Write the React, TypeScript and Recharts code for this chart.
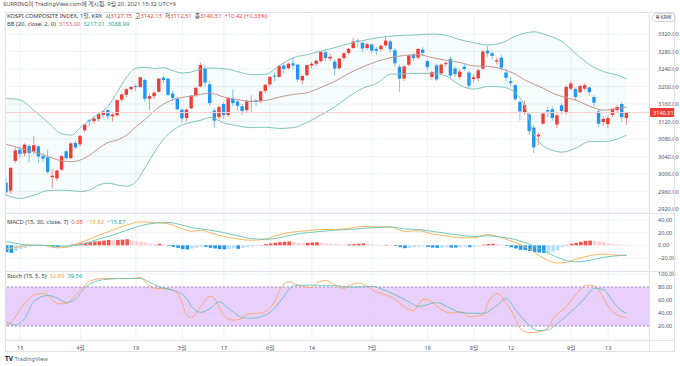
import React from "react";
import {
  ComposedChart,
  Bar,
  Line,
  Area,
  XAxis,
  YAxis,
  CartesianGrid,
  ReferenceLine,
  ReferenceArea,
  Cell,
} from "recharts";

// KOSPI daily, 2021-03-10 .. 2021-09-17
const dates = [
  "03-10", "03-11", "03-12", "03-15", "03-16", "03-17", "03-18", "03-19", "03-22", "03-23", "03-24", "03-25", "03-26", "03-29", "03-30", "03-31",
  "04-01", "04-02", "04-05", "04-06", "04-07", "04-08", "04-09", "04-12", "04-13", "04-14", "04-15", "04-16", "04-19", "04-20", "04-21", "04-22", "04-23", "04-26", "04-27", "04-28", "04-29", "04-30",
  "05-03", "05-04", "05-06", "05-07", "05-10", "05-11", "05-12", "05-13", "05-14", "05-17", "05-18", "05-20", "05-21", "05-24", "05-25", "05-26", "05-27", "05-28", "05-31",
  "06-01", "06-02", "06-03", "06-04", "06-07", "06-08", "06-09", "06-10", "06-11", "06-14", "06-15", "06-16", "06-17", "06-18", "06-21", "06-22", "06-23", "06-24", "06-25", "06-28", "06-29", "06-30",
  "07-01", "07-02", "07-05", "07-06", "07-07", "07-08", "07-09", "07-12", "07-13", "07-14", "07-15", "07-16", "07-19", "07-20", "07-21", "07-22", "07-23", "07-26", "07-27", "07-28", "07-29", "07-30",
  "08-02", "08-03", "08-04", "08-05", "08-06", "08-09", "08-10", "08-11", "08-12", "08-13", "08-17", "08-18", "08-19", "08-20", "08-23", "08-24", "08-25", "08-26", "08-27", "08-30", "08-31",
  "09-01", "09-02", "09-03", "09-06", "09-07", "09-08", "09-09", "09-10", "09-13", "09-14", "09-15", "09-16", "09-17",
];

const open = [
  2980, 2962, 3030, 3056, 3047, 3064, 3052, 3063, 3041, 3038,
  2993, 2990, 3010, 3052, 3036, 3071, 3068, 3100, 3123, 3121,
  3126, 3135, 3146, 3132, 3134, 3170, 3181, 3194, 3201, 3199,
  3215, 3172, 3178, 3188, 3220, 3218, 3184, 3172, 3147, 3128,
  3150, 3180, 3200, 3240, 3205, 3145, 3130, 3160, 3135, 3172,
  3166, 3155, 3146, 3167, 3168, 3167, 3190, 3205, 3225, 3222,
  3248, 3242, 3253, 3250, 3214, 3226, 3248, 3252, 3258, 3278,
  3264, 3257, 3242, 3265, 3277, 3288, 3305, 3300, 3288, 3296,
  3286, 3285, 3294, 3303, 3283, 3245, 3218, 3250, 3272, 3266,
  3284, 3258, 3222, 3248, 3230, 3251, 3263, 3241, 3222, 3245,
  3232, 3217, 3219, 3241, 3282, 3276, 3257, 3266, 3232, 3212,
  3203, 3165, 3140, 3136, 3106, 3086, 3115, 3146, 3148, 3113,
  3157, 3141, 3195, 3194, 3187, 3195, 3198, 3176, 3143, 3119,
  3114, 3135, 3146, 3160, 3127.75,
];

const high = [
  2992, 3016, 3060, 3062, 3070, 3068, 3087, 3066, 3048, 3057,
  3012, 3010, 3044, 3056, 3072, 3076, 3090, 3114, 3125, 3132,
  3140, 3146, 3149, 3140, 3170, 3184, 3196, 3201, 3206, 3222,
  3218, 3183, 3190, 3219, 3224, 3220, 3190, 3176, 3150, 3150,
  3180, 3200, 3255, 3247, 3212, 3150, 3157, 3164, 3175, 3193,
  3170, 3160, 3170, 3180, 3172, 3190, 3206, 3224, 3232, 3249,
  3254, 3255, 3266, 3252, 3228, 3250, 3256, 3262, 3280, 3282,
  3275, 3262, 3265, 3278, 3288, 3312, 3310, 3302, 3299, 3298,
  3290, 3296, 3316, 3306, 3288, 3250, 3248, 3272, 3277, 3288,
  3290, 3262, 3236, 3252, 3252, 3258, 3268, 3246, 3240, 3252,
  3236, 3228, 3240, 3283, 3292, 3282, 3266, 3272, 3240, 3222,
  3206, 3168, 3168, 3140, 3112, 3095, 3140, 3154, 3155, 3138,
  3162, 3203, 3212, 3198, 3204, 3207, 3200, 3180, 3146, 3132,
  3133, 3150, 3158, 3165, 3142.13,
];

const low = [
  2950, 2955, 3025, 3037, 3040, 3025, 3045, 3025, 3026, 3000,
  2968, 2985, 3008, 3033, 3034, 3057, 3063, 3096, 3110, 3115,
  3120, 3128, 3125, 3120, 3132, 3165, 3176, 3190, 3190, 3197,
  3165, 3146, 3172, 3186, 3208, 3178, 3168, 3145, 3118, 3120,
  3148, 3176, 3198, 3200, 3155, 3105, 3125, 3127, 3130, 3155,
  3145, 3135, 3142, 3140, 3155, 3162, 3184, 3200, 3212, 3220,
  3230, 3238, 3240, 3210, 3205, 3222, 3242, 3246, 3255, 3258,
  3258, 3225, 3238, 3260, 3272, 3285, 3290, 3280, 3283, 3275,
  3272, 3280, 3290, 3278, 3245, 3188, 3212, 3246, 3258, 3262,
  3270, 3236, 3215, 3212, 3226, 3245, 3218, 3222, 3216, 3236,
  3196, 3210, 3212, 3238, 3268, 3262, 3250, 3238, 3212, 3200,
  3166, 3122, 3135, 3090, 3048, 3066, 3112, 3130, 3122, 3105,
  3136, 3135, 3190, 3168, 3184, 3190, 3180, 3155, 3108, 3110,
  3105, 3130, 3140, 3120, 3112.51,
];

const close = [
  2958, 3014, 3054, 3046, 3067, 3048, 3066, 3040, 3035, 3005,
  2996, 3008, 3041, 3036, 3070, 3061, 3087, 3113, 3121, 3127,
  3137, 3143, 3132, 3136, 3169, 3182, 3194, 3199, 3199, 3221,
  3172, 3178, 3186, 3218, 3215, 3181, 3174, 3148, 3127, 3147,
  3179, 3197, 3249, 3209, 3162, 3122, 3153, 3135, 3173, 3162,
  3156, 3144, 3166, 3165, 3165, 3189, 3204, 3222, 3224, 3247,
  3240, 3252, 3248, 3216, 3224, 3249, 3252, 3259, 3279, 3265,
  3268, 3241, 3264, 3276, 3286, 3303, 3302, 3287, 3297, 3282,
  3282, 3293, 3305, 3285, 3253, 3218, 3246, 3271, 3265, 3286,
  3277, 3244, 3233, 3216, 3250, 3254, 3225, 3228, 3234, 3240,
  3202, 3221, 3237, 3280, 3276, 3270, 3260, 3243, 3220, 3208,
  3171, 3143, 3158, 3098, 3061, 3090, 3138, 3143, 3128, 3134,
  3144, 3199, 3207, 3176, 3201, 3203, 3187, 3163, 3115, 3126,
  3128, 3149, 3153, 3130, 3140.51,
];

// Bollinger bands (20, 2) read at sample candles: [index, upper, basis, lower]
const bollinger = [
  [0, 3173, 3068, 2952], [3, 3169, 3059, 2944], [6, 3145, 3051, 2952], [9, 3118, 3040, 2962],
  [12, 3092, 3030, 2963], [14, 3089, 3028, 2962], [16, 3106, 3032, 2960], [18, 3123, 3043, 2963],
  [20, 3138, 3059, 2975], [22, 3155, 3072, 2979], [24, 3188, 3078, 2975], [26, 3222, 3089, 2972],
  [28, 3242, 3108, 2982], [30, 3244, 3125, 3015], [32, 3241, 3145, 3050], [34, 3243, 3160, 3080],
  [36, 3236, 3170, 3100], [38, 3231, 3175, 3112], [40, 3233, 3178, 3118], [42, 3240, 3182, 3123],
  [44, 3242, 3185, 3129], [47, 3241, 3176, 3117], [50, 3234, 3170, 3110], [53, 3227, 3166, 3106],
  [56, 3228, 3168, 3107], [59, 3248, 3176, 3104], [62, 3266, 3182, 3106], [65, 3273, 3186, 3118],
  [68, 3281, 3198, 3135], [71, 3289, 3212, 3154], [74, 3298, 3230, 3177], [77, 3305, 3245, 3196],
  [80, 3311, 3257, 3207], [83, 3315, 3266, 3228], [86, 3317, 3271, 3229], [89, 3318, 3273, 3230],
  [92, 3320, 3266, 3230], [95, 3317, 3260, 3224], [98, 3307, 3255, 3203], [101, 3300, 3247, 3194],
  [104, 3295, 3246, 3200], [107, 3300, 3240, 3199], [110, 3315, 3228, 3185], [112, 3322, 3215, 3154],
  [114, 3325, 3205, 3090], [116, 3320, 3196, 3064], [118, 3313, 3185, 3054], [120, 3303, 3177, 3050],
  [123, 3275, 3169, 3059], [126, 3250, 3155, 3074], [129, 3234, 3146, 3074], [132, 3226, 3150, 3080],
  [134, 3217.01, 3153.0, 3088.99],
];

// MACD (15, 30, 7): [index, macd, signal]
const macdLines = [
  [0, -6, 6], [3, -2, 2], [5, 0, 0.5], [8, 0, 0], [11, -4, -1], [13, -3, -1.5], [15, 2, 0],
  [17, 7, 3], [20, 16, 10], [23, 24, 16], [26, 32, 24], [29, 37, 31], [32, 36, 35], [35, 34, 36],
  [38, 26, 32], [40, 22, 28], [42, 24, 26], [44, 20, 24], [47, 14, 20], [50, 10, 15], [53, 8, 10.5],
  [56, 10, 9.5], [59, 17, 12], [62, 21, 17], [65, 23, 20], [68, 25, 22], [71, 25, 24], [74, 27, 25],
  [77, 30, 27], [80, 29, 28], [83, 29, 29], [86, 22, 26], [89, 23, 25], [92, 18, 22], [95, 15, 19],
  [98, 12, 16], [101, 12, 14], [104, 17, 15], [107, 12, 13], [110, 4, 9], [113, -6, 2], [116, -20, -8],
  [119, -28, -19], [121, -27, -24], [123, -22, -26], [125, -18, -25], [127, -15, -22], [129, -14, -19],
  [131, -15, -17], [133, -15.5, -16], [134, -15.82, -15.87],
];

// MACD histogram, one per candle
const macdHist = [
  -11, -12, -9, -6, -4, -2, -1, -0.5, -0.5, -1.5,
  -2.5, -3, -2, -1.5, 1, 1.5, 3, 4, 5, 6,
  6.5, 7.5, 8.5, 8, 8.5, 9, 9.5, 8, 6.5, 5.5,
  4, 3, 2, 2.5, 1, -1, -2.5, -4, -6, -6.5,
  -5, -3.5, -2, -2.5, -4, -5, -6, -6.5, -6, -5,
  -5.5, -4, -3, -2, -1, 0.5, 2, 3, 4, 5,
  5.5, 6, 5, 4, 3.5, 4, 4.5, 5, 4, 3,
  2.5, 2, 1.5, 1, 1.5, 2, 2.5, 3, 2, 1.5,
  1, 0.5, 0.8, 0.5, -1, -3, -4.5, -4, -3, -2,
  -1.5, -2.5, -3.5, -4, -3.5, -3, -3.5, -3.5, -3, -2.5,
  -3, -2.5, -1.5, 1, 2, 2.5, 2, 1, -1, -3,
  -5, -7, -7.5, -9, -11, -11.5, -12, -11, -10, -8,
  -3, 0.5, 2.5, 4, 5.5, 7, 7.5, 7, 6, 5,
  3.5, 2, 1.2, 0.5, 0.05,
];

// Stochastic (15, 5, 5): [index, value]
const stochK = [
  [0, 21], [1, 26], [4, 55], [6, 68], [8, 70], [10, 61], [11, 54], [13, 55], [15, 68], [17, 83],
  [18, 89], [21, 93], [24, 93], [27, 93], [29, 95], [30, 88], [32, 78], [35, 77], [37, 70], [38, 55],
  [39, 36], [40, 33], [42, 50], [44, 66], [45, 62], [47, 36], [49, 29], [51, 32], [52, 38], [55, 40],
  [58, 58], [59, 75], [61, 88], [63, 83], [66, 79], [67, 86], [69, 90], [71, 83], [73, 78], [74, 82],
  [76, 86], [78, 81], [80, 72], [81, 70], [83, 65], [85, 55], [87, 45], [88, 44], [90, 61], [91, 61],
  [93, 50], [96, 40], [98, 42], [100, 34], [103, 37], [104, 55], [106, 70], [108, 55], [110, 31], [111, 16],
  [113, 10], [115, 11], [117, 17], [118, 30], [121, 50], [123, 68], [125, 82], [126, 83], [128, 75], [130, 50],
  [132, 37], [134, 32.89],
];

const stochD = [
  [0, 26], [2, 22], [4, 32], [6, 58], [9, 67], [11, 63], [13, 56], [15, 62], [17, 79], [20, 90],
  [22, 92], [25, 93], [29, 93], [31, 87], [34, 78], [36, 75], [39, 62], [40, 50], [42, 41], [44, 47],
  [46, 57], [48, 47], [51, 33], [53, 32], [56, 37], [58, 48], [60, 66], [62, 82], [66, 83], [68, 82],
  [71, 82], [74, 80], [76, 80], [79, 81], [81, 77], [84, 68], [87, 57], [89, 50], [93, 56], [96, 47],
  [98, 41], [101, 39.5], [103, 39.5], [106, 52], [108, 62], [110, 45], [113, 21], [115, 13], [117, 14], [119, 24],
  [122, 42], [125, 63], [127, 78], [129, 76], [131, 58], [133, 43], [134, 39.56],
];

const timeTickDates = ["03-15", "04-01", "04-19", "05-03", "05-17", "06-01", "06-14", "07-01", "07-19", "08-02", "08-12", "09-01", "09-13"];
const timeTickLabels = ["15", "4월", "19", "5월", "17", "6월", "14", "7월", "19", "8월", "12", "9월", "13"];
const priceTicks = [2920, 2960, 3000, 3040, 3080, 3120, 3160, 3200, 3240, 3280, 3320];
const macdTicks = [-20, 0, 20, 40];
const stochTicks = [20, 40, 60, 80, 100];

const FONT = '"Noto Sans", "Noto Sans CJK KR", sans-serif';
const UP = "#f23b36";
const DOWN = "#2196f3";
const TEXT = "#50535e";
const GRID = "#f0f2f6";
const X_DOMAIN: [number, number] = [-0.28, 138.82];
const MARGIN = { top: 0, right: 5, bottom: 0, left: 5 };

const candles = dates.map((d, i) => ({
  i,
  d,
  o: open[i],
  h: high[i],
  l: low[i],
  c: close[i],
  range: [low[i], high[i]],
}));
const bbRows = bollinger.map(([i, up, mid, lo]) => ({ i, up, mid, lo, band: [lo, up] }));
const macdRows = macdLines.map(([i, m, s]) => ({ i, m, s }));
const histRows = macdHist.map((h, i) => ({ i, h }));
const kRows = stochK.map(([i, v]) => ({ i, v }));
const dRows = stochD.map(([i, v]) => ({ i, v }));
const timeTicks = timeTickDates.map((d) => dates.indexOf(d));
const lastClose = close[close.length - 1];

function histColor(i: number) {
  const h = macdHist[i];
  const prev = i > 0 ? macdHist[i - 1] : 0;
  if (h >= 0) return h >= prev ? "#f7524c" : "#fccfd3";
  return h <= prev ? "#2196f3" : "#b9dcf9";
}

function fmt(v: number) {
  return v < 0 ? "\u2212" + Math.abs(v).toFixed(2) : v.toFixed(2);
}

function Candle(props: any) {
  const { x, y, width, height, payload } = props;
  if (x == null || payload == null) return null;
  const top = Math.min(y, y + height);
  const bottom = Math.max(y, y + height);
  const k = payload.h === payload.l ? 0 : (bottom - top) / (payload.h - payload.l);
  const yo = top + (payload.h - payload.o) * k;
  const yc = top + (payload.h - payload.c) * k;
  const color = payload.c >= payload.o ? UP : DOWN;
  const cx = x + width / 2;
  const bt = Math.min(yo, yc);
  const bh = Math.max(Math.abs(yo - yc), 1);
  return (
    <g>
      <line x1={cx} x2={cx} y1={top} y2={bottom} stroke={color} strokeOpacity={0.55} strokeWidth={1} />
      <rect x={cx - 1.7} y={bt} width={3.4} height={bh} fill={color} />
    </g>
  );
}

function AxisTick(props: any) {
  const { x, y, payload } = props;
  return (
    <text x={x} y={y} dy={2} fontSize={5.6} fill={TEXT} fontFamily={FONT} textAnchor="start">
      {fmt(payload.value)}
    </text>
  );
}

function TimeTick(props: any) {
  const { x, y, payload } = props;
  const k = timeTicks.indexOf(payload.value);
  return (
    <text x={x} y={y} dy={2} fontSize={5.6} fill={TEXT} fontFamily={FONT} textAnchor="middle">
      {k >= 0 ? timeTickLabels[k] : ""}
    </text>
  );
}

function PriceTag(props: any) {
  const vb = props.viewBox;
  if (!vb) return null;
  const x = vb.x + vb.width + 1;
  return (
    <g>
      <rect x={x} y={vb.y - 4.5} width={25} height={9} fill={UP} rx={1} />
      <text x={x + 3} y={vb.y + 2} fontSize={5.6} fill="#fff" fontFamily={FONT}>
        {lastClose.toFixed(2)}
      </text>
    </g>
  );
}

const yAxisProps = {
  orientation: "right" as const,
  width: 26,
  tickLine: false,
  axisLine: false,
  tickMargin: 3,
  allowDataOverflow: true,
  tick: <AxisTick />,
  interval: 0 as const,
};

const txt: React.CSSProperties = {
  position: "absolute",
  fontFamily: FONT,
  fontSize: 5.8,
  lineHeight: "7px",
  color: "#363a45",
  whiteSpace: "nowrap",
};

export default function App() {
  return (
    <div style={{ position: "absolute", left: 0, top: 0, width: 680, height: 366, background: "#fff", overflow: "hidden" }}>
      <div style={{ ...txt, left: 3, top: 1, color: "#4a4e59" }}>
        SURRING이 TradingView.com에 게시됨, 9월 20, 2021 15:32 UTC+9
      </div>

      <div style={{ position: "absolute", left: 0, top: 12 }}>
        <ComposedChart width={680} height={201} data={candles} margin={MARGIN}>
          <CartesianGrid stroke={GRID} />
          <XAxis type="number" dataKey="i" domain={X_DOMAIN} ticks={timeTicks} hide allowDataOverflow />
          <YAxis {...yAxisProps} domain={[2910.9, 3370.3]} ticks={priceTicks} />
          <Area data={bbRows} dataKey="band" type="monotone" fill="#26a69a" fillOpacity={0.045} stroke="none" isAnimationActive={false} />
          <Line data={bbRows} dataKey="up" type="monotone" stroke="#7fc6bc" strokeWidth={1} dot={false} isAnimationActive={false} />
          <Line data={bbRows} dataKey="lo" type="monotone" stroke="#7fc6bc" strokeWidth={1} dot={false} isAnimationActive={false} />
          <Line data={bbRows} dataKey="mid" type="monotone" stroke="#c09791" strokeWidth={1} dot={false} isAnimationActive={false} />
          <ReferenceLine y={lastClose} stroke="#f8cdcd" strokeWidth={1} label={<PriceTag />} />
          <Bar dataKey="range" barSize={4} shape={<Candle />} isAnimationActive={false} />
        </ComposedChart>
      </div>

      <div style={{ position: "absolute", left: 0, top: 213 }}>
        <ComposedChart width={680} height={58} data={histRows} margin={MARGIN}>
          <CartesianGrid stroke={GRID} />
          <XAxis type="number" dataKey="i" domain={X_DOMAIN} ticks={timeTicks} hide allowDataOverflow />
          <YAxis {...yAxisProps} domain={[-40.6, 51.1]} ticks={macdTicks} />
          <Bar dataKey="h" barSize={3.6} isAnimationActive={false}>
            {histRows.map((r) => (
              <Cell key={r.i} fill={histColor(r.i)} />
            ))}
          </Bar>
          <Line data={macdRows} dataKey="m" type="monotone" stroke="#fbb661" strokeWidth={1} dot={false} isAnimationActive={false} />
          <Line data={macdRows} dataKey="s" type="monotone" stroke="#72c8ba" strokeWidth={1} dot={false} isAnimationActive={false} />
        </ComposedChart>
      </div>

      <div style={{ position: "absolute", left: 0, top: 271 }}>
        <ComposedChart width={680} height={81} data={kRows} margin={MARGIN}>
          <CartesianGrid stroke={GRID} />
          <XAxis
            type="number"
            dataKey="i"
            domain={X_DOMAIN}
            ticks={timeTicks}
            height={12}
            tickLine={false}
            axisLine={false}
            tick={<TimeTick />}
            interval={0}
            allowDataOverflow
          />
          <YAxis {...yAxisProps} domain={[-1.5, 104.6]} ticks={stochTicks} />
          <ReferenceArea y1={20} y2={80} fill="#e5c7fb" fillOpacity={0.85} stroke="none" />
          <ReferenceLine y={80} stroke="#a793c0" strokeDasharray="2 2" />
          <ReferenceLine y={20} stroke="#a793c0" strokeDasharray="2 2" />
          <Line dataKey="v" type="monotone" stroke="#f9a45c" strokeOpacity={0.85} strokeWidth={1} dot={false} isAnimationActive={false} />
          <Line data={dRows} dataKey="v" type="monotone" stroke="#62bcb0" strokeOpacity={0.8} strokeWidth={1} dot={false} isAnimationActive={false} />
        </ComposedChart>
      </div>

      <svg width={680} height={366} style={{ position: "absolute", left: 0, top: 0, pointerEvents: "none" }}>
        <rect x={5.5} y={12.5} width={669} height={339} fill="none" stroke="#e0e3eb" />
        <line x1={649.5} x2={649.5} y1={12} y2={352} stroke="#e0e3eb" />
        <line x1={5} x2={675} y1={213.5} y2={213.5} stroke="#e0e3eb" />
        <line x1={5} x2={675} y1={271.5} y2={271.5} stroke="#e0e3eb" />
        <line x1={5} x2={675} y1={340.5} y2={340.5} stroke="#e0e3eb" />
      </svg>

      <div style={{ ...txt, left: 7, top: 13 }}>
        KOSPI COMPOSITE INDEX, 1일, KRX&nbsp;&nbsp;시<span style={{ color: UP }}>3127.75</span>&nbsp;&nbsp;고
        <span style={{ color: UP }}>3142.13</span>&nbsp;&nbsp;저<span style={{ color: UP }}>3112.51</span>&nbsp;&nbsp;종
        <span style={{ color: UP }}>3140.51</span>&nbsp;&nbsp;<span style={{ color: UP }}>+10.42 (+0.33%)</span>
      </div>
      <div style={{ ...txt, left: 7, top: 21 }}>
        BB (20, close, 2, 0)&nbsp;&nbsp;<span style={{ color: "#d9625d" }}>3153.00</span>&nbsp;&nbsp;
        <span style={{ color: "#26a69a" }}>3217.01</span>&nbsp;&nbsp;<span style={{ color: "#26a69a" }}>3088.99</span>
      </div>
      <div style={{ ...txt, left: 7, top: 219 }}>
        MACD (15, 30, close, 7)&nbsp;&nbsp;<span style={{ color: UP }}>0.05</span>&nbsp;&nbsp;
        <span style={{ color: "#f7a43b" }}>{"\u2212"}15.82</span>&nbsp;&nbsp;<span style={{ color: "#26a69a" }}>{"\u2212"}15.87</span>
      </div>
      <div style={{ ...txt, left: 7, top: 273 }}>
        Stoch (15, 5, 5)&nbsp;&nbsp;<span style={{ color: "#f7a43b" }}>32.89</span>&nbsp;&nbsp;
        <span style={{ color: "#26a69a" }}>39.56</span>
      </div>
      <div
        style={{
          ...txt,
          left: 652,
          top: 13,
          height: 7,
          padding: "0 3px",
          border: "1px solid #d1d4dc",
          borderRadius: 4,
          fontSize: 5,
          lineHeight: "7px",
        }}
      >
        ₩ KRW
      </div>
      <div style={{ ...txt, left: 5, top: 355, color: "#131722" }}>
        <b style={{ fontSize: 6.5 }}>TV</b> <span style={{ color: "#6a6d78" }}>TradingView</span>
      </div>
    </div>
  );
}
